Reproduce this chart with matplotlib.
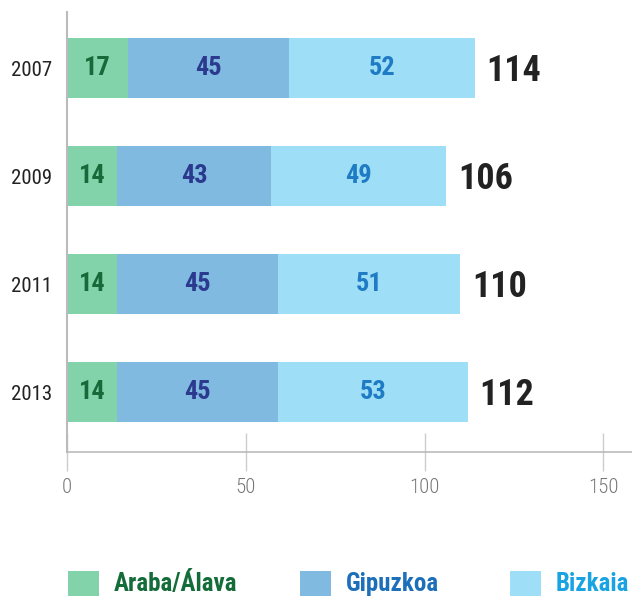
import matplotlib.pyplot as plt
from matplotlib.patches import Rectangle
from matplotlib import font_manager

# data
years = ["2007", "2009", "2011", "2013"]
araba = [17, 14, 14, 14]
gipuzkoa = [45, 43, 45, 45]
bizkaia = [52, 49, 51, 53]
totals = [114, 106, 110, 112]
series_names = ["Araba/Álava", "Gipuzkoa", "Bizkaia"]

bar_colors = ["#82d3a9", "#80bae0", "#9edff7"]
label_colors = ["#17693a", "#2b3a8f", "#1f7cc4"]
legend_colors = ["#146c38", "#1c6fb8", "#19a3e2"]

# pick a condensed face if one is around
names = {f.name for f in font_manager.fontManager.ttflist}
narrow = "DejaVu Sans"
for cand in ["Roboto Condensed", "Liberation Sans Narrow", "Archivo Narrow"]:
    if cand in names:
        narrow = cand
        break
plt.rcParams["font.family"] = [narrow, "DejaVu Sans"]

fig = plt.figure(figsize=(6.32, 5.96), dpi=100)
ax = fig.add_axes([67 / 632, 144 / 596, 1 - 67 / 632, 440 / 596])

pos = list(range(len(years)))
h = 0.555
left = [0] * len(years)
for vals, col, tcol in zip([araba, gipuzkoa, bizkaia], bar_colors, label_colors):
    bars = ax.barh(pos, vals, left=left, height=h, color=col, linewidth=0)
    for b, v in zip(bars, vals):
        ax.text(b.get_x() + b.get_width() / 2, b.get_y() + h / 2, str(v),
                ha="center", va="center", fontsize=19, fontweight="bold", color=tcol)
    left = [l + v for l, v in zip(left, vals)]

for p, t in zip(pos, totals):
    ax.text(t + 3.3, p + 0.03, str(t), ha="left", va="center", fontsize=26,
            fontweight="bold", color="#222222")

ax.set_xlim(0, 158)
ax.set_ylim(3.555, -0.52)
ax.set_yticks(pos)
ax.set_yticklabels(years)
ax.set_xticks([0, 50, 100, 150])
ax.tick_params(axis="y", length=0, pad=11, labelsize=15, labelcolor="#222222")
ax.tick_params(axis="x", direction="inout", length=27, width=1, color="#cccccc",
               pad=5, labelsize=15, labelcolor="#777777")
for lbl in ax.get_xticklabels():
    lbl.set_fontweight("light")
for s in ["top", "right"]:
    ax.spines[s].set_visible(False)
ax.spines["left"].set_color("#bbbbbb")
ax.spines["left"].set_linewidth(1.5)
ax.spines["bottom"].set_color("#bbbbbb")
ax.spines["bottom"].set_linewidth(1.2)

# legend
sq_x = [68, 300, 510]
for x, name, col, tcol in zip(sq_x, series_names, bar_colors, legend_colors):
    fig.patches.append(Rectangle((x / 632, 0), 31 / 632, 25 / 596,
                                 transform=fig.transFigure, color=col, linewidth=0))
    fig.text((x + 46) / 632, 12 / 596, name, ha="left", va="center",
             fontsize=18, fontweight="bold", color=tcol)

fig.savefig("out.png", dpi=100)
